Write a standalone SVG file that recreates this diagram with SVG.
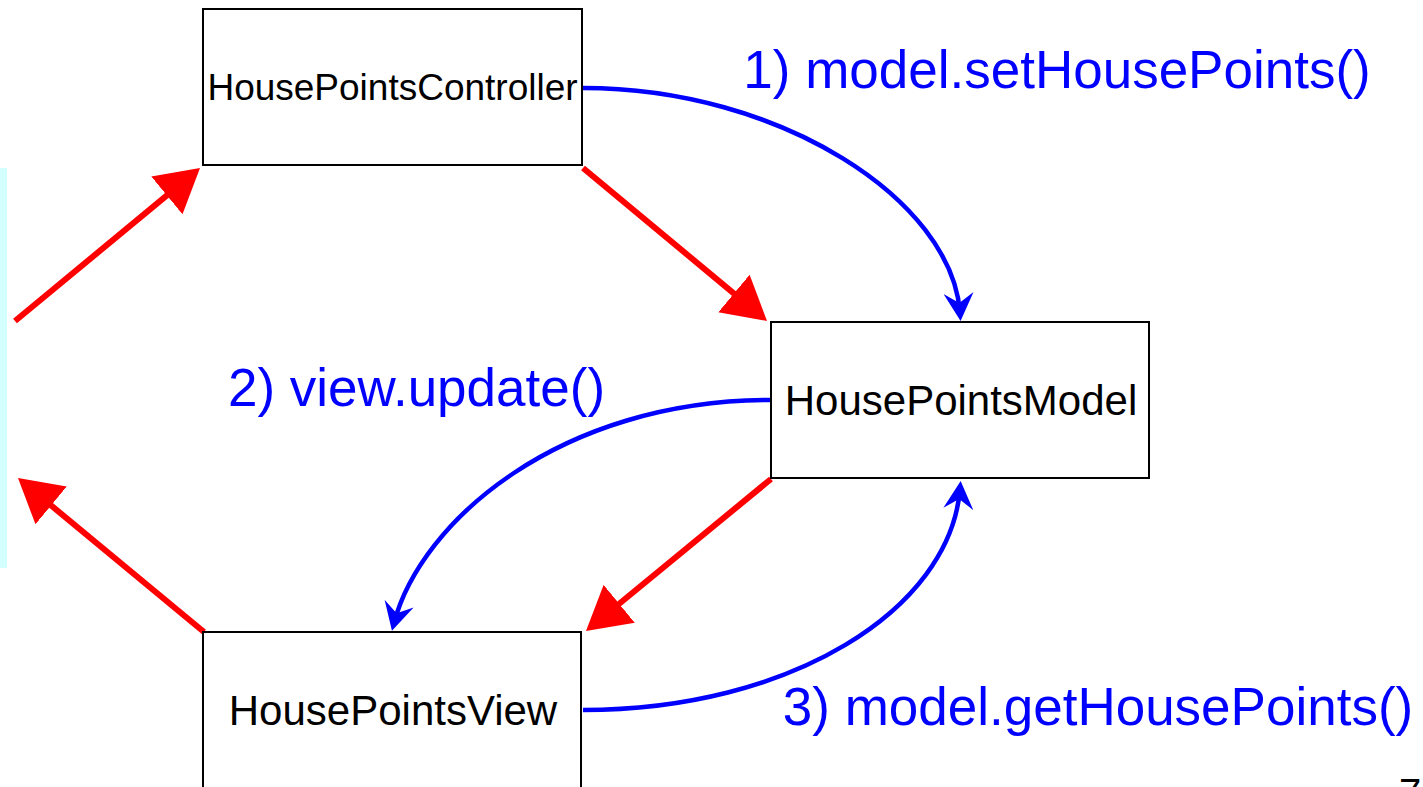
<svg xmlns="http://www.w3.org/2000/svg" width="1423" height="787" viewBox="0 0 1423 787">
<style>
.box{fill:#fff;stroke:#000;stroke-width:2}
.lbl{font-family:"Liberation Sans",Arial,sans-serif;fill:#000;text-anchor:middle}
.call{font-family:"Liberation Sans",Arial,sans-serif;fill:#0000ff;font-size:53px;text-anchor:middle}
.red{stroke:#ff0000;stroke-width:6;fill:none}
.blue{stroke:#0000ff;stroke-width:4.5;fill:none}
</style>
<defs>
<marker id="rh" markerUnits="userSpaceOnUse" viewBox="0 0 43 49" markerWidth="43" markerHeight="49" refX="33" refY="24.5" orient="auto">
<path d="M0,0 L43,24.5 L0,49 z" fill="#ff0000"/>
</marker>
<marker id="bh" markerUnits="userSpaceOnUse" viewBox="0 0 28 30" markerWidth="28" markerHeight="30" refX="20" refY="15" orient="auto">
<path d="M0,0 L28,15 L0,30 L10,15 z" fill="#0000ff"/>
</marker>
</defs>
<rect width="1423" height="787" fill="#fff"/>
<rect x="0" y="168" width="7" height="400" fill="#d4ffff"/>
<g id="connectors">
<line class="red" x1="15" y1="321" x2="192.3" y2="174.4" marker-end="url(#rh)"/>
<line class="red" x1="583" y1="168" x2="759.3" y2="314.6" marker-end="url(#rh)"/>
<line class="red" x1="771" y1="479" x2="593.7" y2="624.7" marker-end="url(#rh)"/>
<line class="red" x1="204" y1="632" x2="25.7" y2="484.4" marker-end="url(#rh)"/>
<path class="blue" d="M583,88 C780,88 952,200 960,313" marker-end="url(#bh)"/>
<path class="blue" d="M771,400 C560,400 421,521 394,623" marker-end="url(#bh)"/>
<path class="blue" d="M583,710 C790,710 950,610 960,489" marker-end="url(#bh)"/>
</g>
<g id="controller">
<rect class="box" x="203" y="9" width="379" height="156"/>
<text class="lbl" x="392.5" y="100" font-size="37">HousePointsController</text>
</g>
<g id="model">
<rect class="box" x="771" y="322" width="378" height="156"/>
<text class="lbl" x="961" y="415" font-size="42">HousePointsModel</text>
</g>
<g id="view">
<rect class="box" x="203" y="632" width="378" height="160"/>
<text class="lbl" x="393" y="725" font-size="42">HousePointsView</text>
</g>
<g id="labels">
<text class="call" x="1057" y="88">1) model.setHousePoints()</text>
<text class="call" x="416.5" y="406">2) view.update()</text>
<text class="call" x="1098" y="725">3) model.getHousePoints()</text>
<text x="1399" y="807" font-family="Liberation Sans,Arial,sans-serif" font-size="40" fill="#000">7</text>
</g>
</svg>
